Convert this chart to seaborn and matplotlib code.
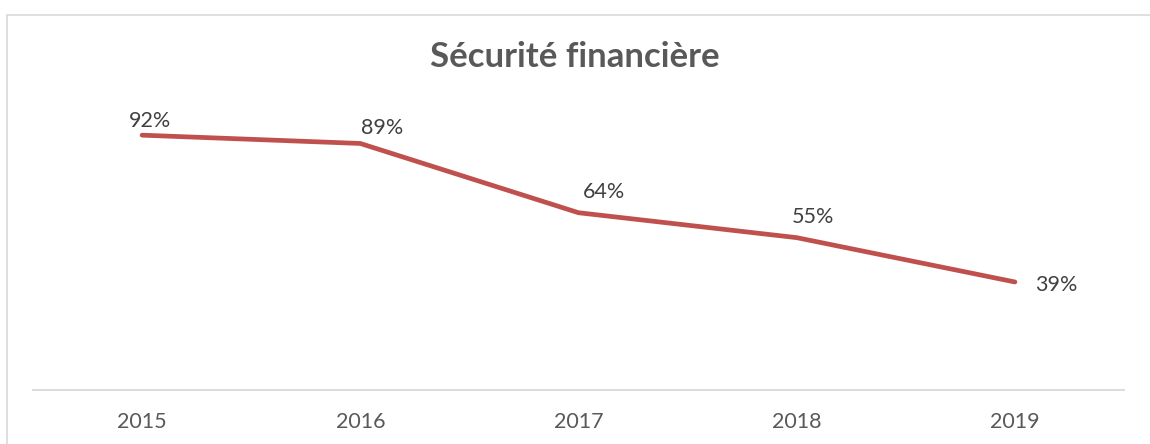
import pandas as pd
import seaborn as sns
import matplotlib.pyplot as plt
from matplotlib.lines import Line2D

sns.set_theme(style='white')
plt.rcParams['font.family'] = ['Lato', 'DejaVu Sans']

# Data
years = ['2015', '2016', '2017', '2018', '2019']
values = [92, 89, 64, 55, 39]
title = 'Sécurité financière'

# label offsets in points (Excel-ish placement)
label_offsets = [(6, 10), (16, 11), (18, 15), (12, 15), (30, -2)]

df = pd.DataFrame({'Year': years, 'Value': values})

fig = plt.figure(figsize=(11.5, 4.44), dpi=100)
ax = fig.add_axes([33 / 1150, 1 - 390 / 444, (1124 - 33) / 1150, (390 - 113) / 444])

sns.lineplot(data=df, x='Year', y='Value', ax=ax, color='#C0504D',
             linewidth=3.4, sort=False, solid_capstyle='round', solid_joinstyle='miter')

ax.set_xlim(-0.5, len(years) - 0.5)
ax.set_ylim(0, 100)
ax.set_xlabel('')
ax.set_ylabel('')
ax.set_yticks([])
ax.tick_params(axis='x', length=0, pad=16, labelsize=15.5, labelcolor='#595959')

for s in ['top', 'right', 'left']:
    ax.spines[s].set_visible(False)
ax.spines['bottom'].set_color('#d9d9d9')
ax.spines['bottom'].set_linewidth(1.3)

for i, (v, off) in enumerate(zip(values, label_offsets)):
    ax.annotate(f'{v}%', (i, v), xytext=off, textcoords='offset points',
                ha='center', va='center', fontsize=15.5, color='#404040')

fig.text(0.5, 1 - 57 / 444, title, ha='center', va='center',
         fontsize=25, fontweight='bold', color='#595959')

# chart frame like the Excel chart area
fig.add_artist(Line2D([7 / 1150, 7 / 1150], [0, 1 - 15 / 444],
                      transform=fig.transFigure, color='#d9d9d9', linewidth=1.2))
fig.add_artist(Line2D([7 / 1150, 1], [1 - 15 / 444, 1 - 15 / 444],
                      transform=fig.transFigure, color='#d9d9d9', linewidth=1.2))

fig.savefig('out.png', dpi=100, facecolor='white')
